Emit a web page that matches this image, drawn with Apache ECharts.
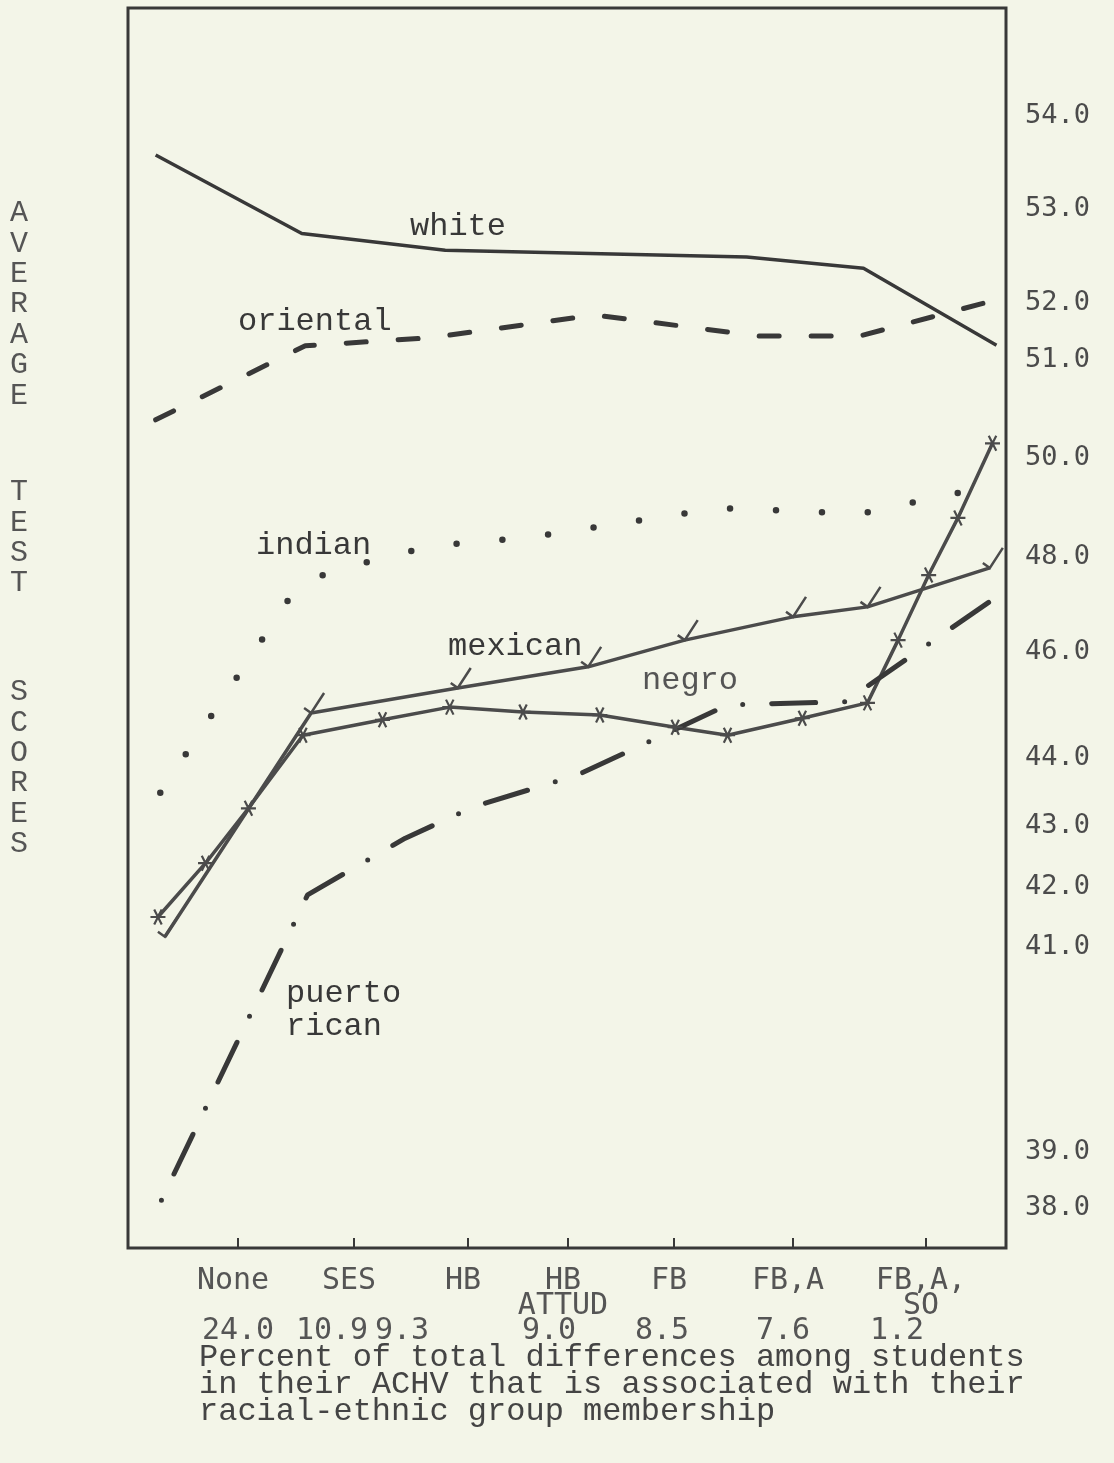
<!DOCTYPE html>
<html>
<head>
<meta charset="utf-8">
<title>Average test scores by racial-ethnic group</title>
<script src="https://cdn.jsdelivr.net/npm/echarts@6/dist/echarts.min.js"></script>
<style>
  html, body { margin: 0; padding: 0; background: #f3f5e8; }
  #chart { width: 1114px; height: 1463px; }
</style>
</head>
<body>
<div id="chart"></div>
<script>
// control variables along the bottom, in the order they were added
const categories = ['None', 'SES', 'HB', 'HB\nATTUD', 'FB', 'FB,A', 'FB,A,\nSO'];
// percent of the ACHV differences associated with group membership
const percentAssoc = ['24.0', '10.9', '9.3', '9.0', '8.5', '7.6', '1.2'];
// labels of the right hand score scale (hand drawn, not evenly spaced)
const scoreTicks = [38, 39, 41, 42, 43, 44, 46, 48, 50, 51, 52, 53, 54];

// [step along the bottom axis, average test score]
const white = [[-0.71, 53.58], [0.55, 52.74], [1.80, 52.56], [4.61, 52.49], [5.53, 52.37], [6.53, 51.26]];
const oriental = [[-0.71, 50.39], [0.58, 51.25], [1.67, 51.39], [3.25, 51.79], [4.72, 51.42], [5.50, 51.42], [6.44, 52.0]];
const indian = [[-0.67, 43.49], [0.53, 47.45], [0.92, 47.77], [1.67, 48.22], [2.62, 48.40], [4.39, 48.99], [5.50, 48.87], [6.44, 49.41]];
const mexican = [[-0.63, 41.17], [0.63, 44.85], [1.91, 45.32], [3.19, 45.72], [4.09, 46.25], [5.00, 46.74], [5.56, 46.95], [6.48, 47.77]];
const negro = [[-0.69, 41.50], [-0.28, 42.39], [0.09, 43.26], [0.56, 44.43], [1.25, 44.72], [1.84, 44.96], [2.55, 44.87],
  [3.30, 44.81], [4.01, 44.58], [4.45, 44.43], [5.07, 44.75], [5.56, 45.04], [5.79, 46.25], [6.02, 47.62], [6.24, 48.79], [6.50, 50.15]];
const puertoRican = [[-0.66, 38.14], [0.60, 41.87], [1.45, 42.80], [2.07, 43.29], [3.09, 43.75], [4.45, 45.00], [5.39, 45.06], [6.52, 47.14]];

// the paper's scales are drawn by hand, so map value -> distance along the axis piecewise
const xScale = [[0, 110], [1, 226], [2, 340], [3, 440], [4, 546], [5, 665], [6, 798]];
const yScale = [[38, 40], [39, 96], [41, 301], [42, 361], [43, 422], [44, 490], [46, 596],
  [48, 691], [50, 790], [51, 888], [52, 945], [53, 1039], [54, 1132]];

function warp(stops, v) {
  let i = 1;
  while (i < stops.length - 1 && v > stops[i][0]) i++;
  const [v0, p0] = stops[i - 1];
  const [v1, p1] = stops[i];
  return p0 + (v - v0) * (p1 - p0) / (v1 - v0);
}
const toAxes = (pts) => pts.map(([s, score]) => [warp(xScale, s), warp(yScale, score)]);

const ink = '#383838';
const ink2 = '#4b4b4b';
const mono = '"Liberation Mono", "DejaVu Sans Mono", monospace';
const gothic = '"DejaVu Sans Mono", monospace';

const xTickPos = categories.map((c, i) => warp(xScale, i));
const yTickPos = scoreTicks.map(v => warp(yScale, v));

const chart = echarts.init(document.getElementById('chart'));

function label(text, x, y, fill) {
  return {
    type: 'text', x: x, y: y,
    style: { text: text, font: '32px ' + mono, fill: fill || ink, textVerticalAlign: 'middle' }
  };
}

function stacked(word, y) {
  return {
    type: 'text', x: 19, y: y,
    style: { text: word.split('').join('\n'), font: '30px ' + mono, fill: '#555', lineHeight: 30.4, textAlign: 'center', textVerticalAlign: 'top' }
  };
}

// percent row is typed, so its numbers don't sit under the ticks
const pctX = [238, 332, 402, 549, 662, 783, 897];

const option = {
  animation: false,
  backgroundColor: '#f3f5e8',
  grid: {
    left: 128, top: 8, width: 878, height: 1240,
    show: true, borderColor: ink, borderWidth: 3
  },
  xAxis: {
    type: 'value', min: 0, max: 878,
    splitLine: { show: false },
    axisLine: { show: false },
    axisTick: { show: true, inside: true, length: 10, customValues: xTickPos, lineStyle: { color: ink, width: 2 } },
    axisLabel: {
      customValues: xTickPos,
      margin: 21,
      lineHeight: 25,
      padding: [0, 10, 0, 0],
      fontFamily: gothic, fontSize: 30, color: '#555',
      formatter: (v) => {
        const i = xTickPos.findIndex(p => Math.abs(p - v) < 0.5);
        return i >= 0 ? categories[i] : '';
      }
    }
  },
  yAxis: {
    type: 'value', position: 'right', min: 0, max: 1240,
    splitLine: { show: false },
    axisLine: { show: false },
    axisTick: { show: false },
    axisLabel: {
      customValues: yTickPos,
      margin: 19,
      fontFamily: gothic, fontSize: 27, color: ink2,
      formatter: (v) => {
        const i = yTickPos.findIndex(p => Math.abs(p - v) < 0.5);
        return i >= 0 ? scoreTicks[i].toFixed(1) : '';
      }
    }
  },
  series: [
    {
      name: 'white', type: 'line', data: toAxes(white), symbol: 'none',
      lineStyle: { color: ink, width: 3.5 }
    },
    {
      name: 'oriental', type: 'line', data: toAxes(oriental), symbol: 'none',
      lineStyle: { color: ink, width: 5, type: [20, 32], cap: 'round' }
    },
    {
      name: 'indian', type: 'line', data: toAxes(indian), symbol: 'none',
      lineStyle: { color: ink, width: 6.5, type: [0, 46], cap: 'round' }
    },
    {
      name: 'mexican', type: 'line', data: toAxes(mexican),
      symbol: 'path://M0,15L7,20L20,0', symbolSize: [20, 20], symbolOffset: [3, -10],
      itemStyle: { color: 'transparent', borderColor: ink2, borderWidth: 2.5 },
      lineStyle: { color: ink2, width: 3.5 }
    },
    {
      name: 'negro', type: 'line', data: toAxes(negro),
      symbol: 'path://M-10,0L10,0M-5,-8.7L5,8.7M-5,8.7L5,-8.7', symbolSize: 15,
      itemStyle: { color: 'transparent', borderColor: ink2, borderWidth: 2.2 },
      lineStyle: { color: ink2, width: 3.5 }
    },
    {
      name: 'puerto rican', type: 'line', data: toAxes(puertoRican), symbol: 'none',
      lineStyle: { color: ink, width: 5, type: [0, 29, 44, 29], cap: 'round' }
    }
  ],
  graphic: [
    // series names written beside the curves
    label('white', 410, 227),
    label('oriental', 238, 322),
    label('indian', 256, 546),
    label('mexican', 448, 647),
    label('negro', 642, 681, '#555'),
    {
      type: 'text', x: 286, y: 977,
      style: { text: 'puerto\nrican', font: '32px ' + mono, fill: ink, lineHeight: 33, textVerticalAlign: 'top' }
    },
    // vertical title on the left
    stacked('AVERAGE', 198),
    stacked('TEST', 477),
    stacked('SCORES', 677),
    // typed percent row and caption under the axis
    ...percentAssoc.map((p, i) => ({
      type: 'text', x: pctX[i], y: 1331,
      style: { text: p, font: '30px ' + gothic, fill: '#555', textAlign: 'center', textVerticalAlign: 'middle' }
    })),
    {
      type: 'text', x: 199, y: 1344,
      style: {
        text: 'Percent of total differences among students\nin their ACHV that is associated with their\nracial-ethnic group membership',
        font: '32px ' + mono, fill: '#444', lineHeight: 27, textVerticalAlign: 'top'
      }
    }
  ]
};

chart.setOption(option);
</script>
</body>
</html>
